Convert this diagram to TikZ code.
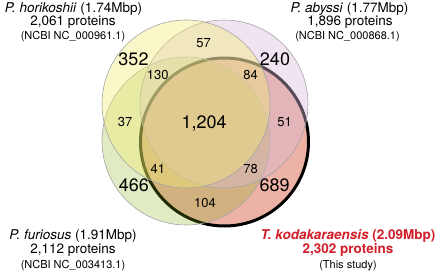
\documentclass[tikz,border=0pt]{standalone}
\usepackage{fontspec}
\setmainfont{TeX Gyre Heros}
\usepackage{tikz}
\usepackage{xcolor}

\definecolor{kodred}{RGB}{235,178,165}
\definecolor{horiyel}{RGB}{242,235,117}
\definecolor{abypur}{RGB}{217,187,217}
\definecolor{furgrn}{RGB}{135,175,15}
\definecolor{titlered}{RGB}{210,30,40}
\definecolor{rimgray}{RGB}{165,165,165}

\tikzset{
    setrim/.style={draw=rimgray,line width=0.6pt,fill opacity=0.4},
    bignum/.style={font=\fontsize{18}{20}\selectfont,anchor=base,inner sep=0pt},
    smallnum/.style={font=\fontsize{13}{15}\selectfont,anchor=base,inner sep=0pt},
    nameline/.style={font=\fontsize{13.5}{15}\selectfont,anchor=base,inner sep=0pt},
    ncbiline/.style={font=\fontsize{11}{13}\selectfont,anchor=base,inner sep=0pt},
}

\begin{document}
\begin{tikzpicture}[x=1pt,y=-1pt]
    \useasboundingbox (0,0) rectangle (440,271);
    \filldraw[fill=kodred,draw=black,line width=3pt] (224.5,142) circle (84pt);
    \filldraw[setrim,fill=furgrn,fill opacity=0.25] (186,141) circle (84pt);
    \filldraw[setrim,fill=abypur] (224,104) circle (84pt);
    \filldraw[setrim,fill=horiyel] (186,104) circle (84pt);
    \foreach \x/\y/\lab [count=\i] in {133.5/65.5/352,275/65.5/240,133.8/191.8/466,274.7/191.8/689}{
        \node[bignum] (big\i) at (\x,\y) {\lab};
    }
    \node[bignum] (core) at (204.2,128.5) {1,204};
    \foreach \x/\y/\lab [count=\i] in {203.7/47.9/57,157.7/79.9/130,250.7/79.9/84,125/126.9/37,
                                       284.7/126.9/51,157.8/173.9/41,250.7/173.9/78,205/207.9/104}{
        \node[smallnum] (small\i) at (\x,\y) {\lab};
    }
    \node[nameline] (hori1) at (73.5,12.5) {\textit{P. horikoshii} (1.74Mbp)};
    \node[nameline] (hori2) at (73,25.5) {2,061 proteins};
    \node[ncbiline] (hori3) at (73,39) {(NCBI NC\_000961.1)};
    \node[nameline] (aby1) at (349.5,12.5) {\textit{P. abyssi} (1.77Mbp)};
    \node[nameline] (aby2) at (350,25.5) {1,896 proteins};
    \node[ncbiline] (aby3) at (347.5,39) {(NCBI NC\_000868.1)};
    \node[nameline] (fur1) at (73,239.5) {\textit{P. furiosus} (1.91Mbp)};
    \node[nameline] (fur2) at (73,253) {2,112 proteins};
    \node[ncbiline] (fur3) at (73,268) {(NCBI NC\_003413.1)};
    \node[nameline,text=titlered] (kod1) at (348,239.5) {\bfseries\itshape T. kodakaraensis \upshape(2.09Mbp)};
    \node[nameline,text=titlered] (kod2) at (348,253) {\bfseries 2,302 proteins};
    \node[ncbiline] (kod3) at (348,268) {(This study)};
\end{tikzpicture}
\end{document}
